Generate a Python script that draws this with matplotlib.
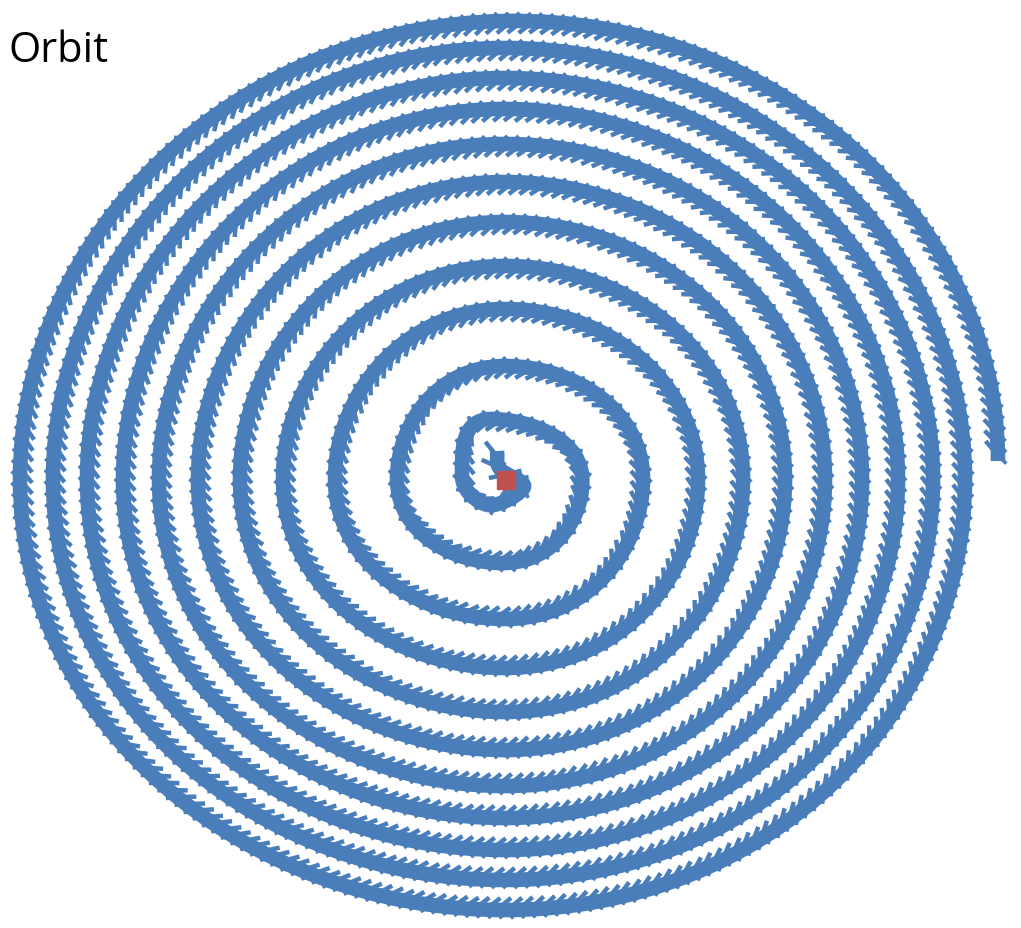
import numpy as np
import matplotlib
matplotlib.use("Agg")
import matplotlib.pyplot as plt
from matplotlib.path import Path
from matplotlib.patches import PathPatch
from matplotlib import patheffects

W, H = 1021, 929

# Orbit crossings of the four axes through the sun, turn by turn (drawing units, y down)
start_points = [(497, 452), (500, 470), (524, 488)]
bottom_y = [506, 564, 620, 669, 713, 751, 787, 819, 851, 881, 911]
left_x = [462, 397, 335, 283, 240, 198, 159, 123, 87, 53, 20]
top_y = [420, 367, 310, 267, 223, 183, 145, 110, 79, 49, 22]
right_x = [582, 643, 698, 743, 785, 825, 862, 898, 933, 965, 998]
axis_x = [488, 505, 505, 505, 505, 505, 505, 505, 505, 505, 505]
axis_y = [476, 480, 480, 480, 480, 480, 480, 480, 480, 480, 462]
sun_xy = (506, 481)

orbit_color = "#4a7ebb"
sun_color = "#c0504d"

# assemble the orbit in drawing order (clockwise on the page, outward)
pts = list(start_points)
for k in range(len(bottom_y)):
    pts.append((axis_x[k], bottom_y[k]))
    pts.append((left_x[k], axis_y[k] if k < len(axis_y) - 1 else 480))
    pts.append((axis_x[k] + (3 if k == 0 else 0), top_y[k]))
    pts.append((right_x[k], axis_y[k]))
P = np.array([(x, H - y) for x, y in pts], dtype=float)

# smooth cubic Bezier through the crossings
n = len(P)
T = np.zeros_like(P)
for i in range(n):
    if i == 0:
        T[i] = (P[1] - P[0]) * 0.33
    elif i == n - 1:
        # last crossing sits on the right: the orbit is heading straight down there
        d = P[-1] - P[-2]
        T[i] = (0.0, 2 * 0.276 * d[1])
    else:
        T[i] = (P[i + 1] - P[i - 1]) * (0.18 if i < 5 else 0.276)
verts = [tuple(P[0])]
codes = [Path.MOVETO]
for i in range(n - 1):
    verts += [tuple(P[i] + T[i]), tuple(P[i + 1] - T[i + 1]), tuple(P[i + 1])]
    codes += [Path.CURVE4] * 3
orbit_path = Path(verts, codes)

fig = plt.figure(figsize=(W / 100, H / 100), dpi=100)
ax = fig.add_axes([0, 0, 1, 1])
ax.set_xlim(0, W)
ax.set_ylim(0, H)
ax.axis("off")

orbit = PathPatch(orbit_path, fill=False, edgecolor=orbit_color, linewidth=10.5,
                  capstyle="butt", joinstyle="round")
orbit.set_path_effects([
    patheffects.TickedStroke(angle=-140, spacing=8, length=1.7, linewidth=3.2,
                             foreground=orbit_color),
    patheffects.TickedStroke(angle=45, spacing=8, length=1.05, linewidth=2.6,
                             foreground=orbit_color),
    patheffects.Normal(),
])
ax.add_patch(orbit)

ax.plot([sun_xy[0]], [H - sun_xy[1]], marker="s", markersize=13.5,
        color=sun_color, linestyle="none", zorder=5)

fig.text(8 / W, 1 - 62 / H, "Orbit", fontsize=30, family="Open Sans",
         color="black", ha="left", va="baseline")

fig.savefig("out.png", dpi=100)
